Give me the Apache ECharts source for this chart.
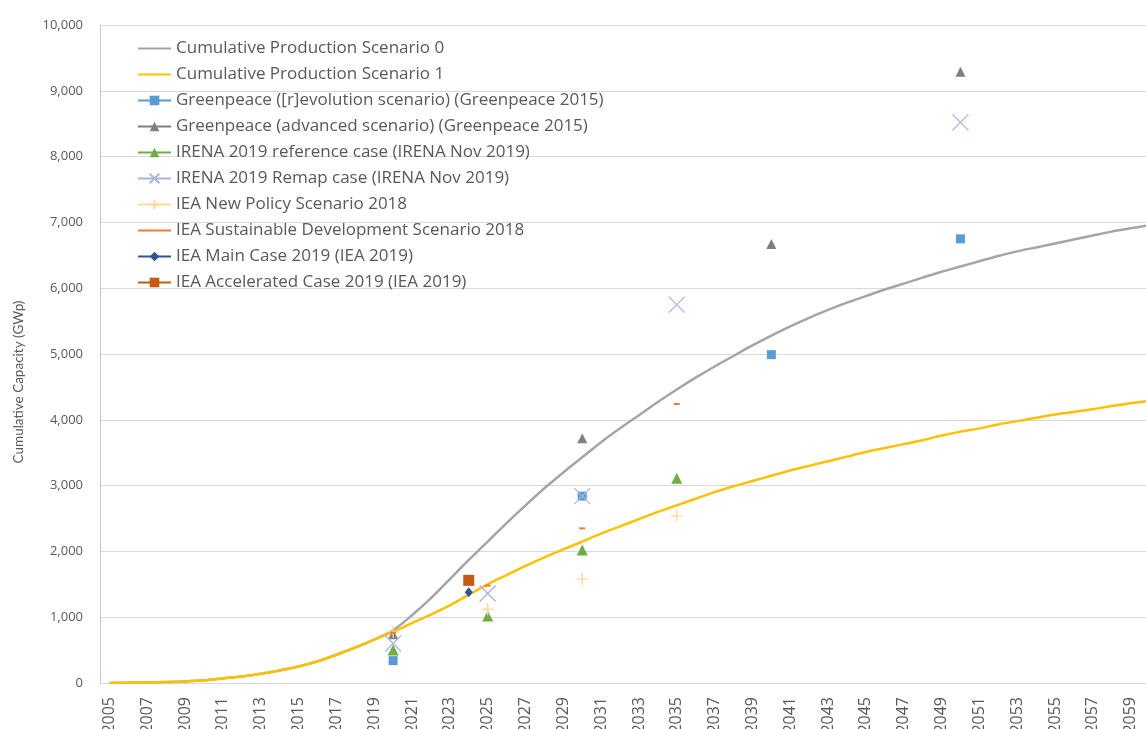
<!DOCTYPE html>
<html>
<head>
<meta charset="utf-8">
<script src="https://cdn.jsdelivr.net/npm/echarts@6/dist/echarts.min.js"></script>
<style>
  html, body { margin: 0; padding: 0; background: #fff; }
  #chart { width: 1146px; height: 729px; }
</style>
</head>
<body>
<div id="chart"></div>
<script>
// Years on the category axis
const years = [];
for (let y = 2005; y <= 2060; y++) years.push(String(y));

// Modelled cumulative production (GWp), one value per year 2005-2060
const scenario0 = [
  0, 4, 8, 15, 24, 40, 70, 100, 140, 190,
  250, 330, 430, 540, 660, 800, 1030, 1290, 1580, 1870,
  2150, 2430, 2700, 2960, 3200, 3430, 3660, 3870, 4070, 4270,
  4460, 4640, 4810, 4970, 5130, 5280, 5420, 5550, 5670, 5780,
  5880, 5980, 6070, 6160, 6250, 6330, 6410, 6490, 6560, 6620,
  6680, 6740, 6800, 6860, 6910, 6960
];
const scenario1 = [
  0, 4, 8, 15, 24, 40, 70, 100, 140, 190,
  250, 330, 430, 540, 660, 780, 910, 1040, 1180, 1340,
  1500, 1640, 1780, 1910, 2030, 2150, 2270, 2380, 2490, 2600,
  2700, 2800, 2900, 2990, 3070, 3150, 3230, 3300, 3370, 3440,
  3510, 3570, 3630, 3690, 3760, 3820, 3870, 3930, 3980, 4030,
  4080, 4120, 4160, 4210, 4250, 4290
];

// Published outlooks (year, GWp)
const greenpeaceRevYears = [2020, 2030, 2040, 2050];
const greenpeaceRevValues = [340, 2840, 4990, 6750];
const greenpeaceAdvYears = [2020, 2030, 2040, 2050];
const greenpeaceAdvValues = [740, 3720, 6670, 9290];
const irenaRefYears = [2020, 2025, 2030, 2035];
const irenaRefValues = [500, 1020, 2020, 3110];
const irenaRemapYears = [2020, 2025, 2030, 2035, 2050];
const irenaRemapValues = [600, 1360, 2840, 5750, 8520];
const ieaNpsYears = [2020, 2025, 2030, 2035];
const ieaNpsValues = [780, 1120, 1580, 2540];
const ieaSdsYears = [2020, 2025, 2030, 2035];
const ieaSdsValues = [765, 1480, 2350, 4240];
const ieaMainYears = [2024];
const ieaMainValues = [1380];
const ieaAccYears = [2024];
const ieaAccValues = [1560];

// Place sparse (year, value) pairs onto the yearly category axis
function onAxis(ys, vs) {
  const out = years.map(() => null);
  ys.forEach((y, i) => { out[years.indexOf(String(y))] = vs[i]; });
  return out;
}

const TEXT = '#595959';
const FONT = 'Open Sans';

function marker(name, ys, vs, color, symbol, size, stroke) {
  const s = {
    name: name,
    type: 'line',
    data: onAxis(ys, vs),
    connectNulls: false,
    showAllSymbol: true,
    symbol: symbol,
    symbolSize: size,
    lineStyle: { color: color, width: 2.5 },
    itemStyle: { color: color },
    emphasis: { disabled: true }
  };
  if (stroke) {
    s.itemStyle = { color: 'rgba(0,0,0,0)', borderColor: color, borderWidth: stroke };
  }
  return s;
}

const seriesList = [
  {
    name: 'Cumulative Production Scenario 0', type: 'line', data: scenario0,
    symbol: 'none', smooth: 0.3, lineStyle: { color: '#A5A5A5', width: 2.5 },
    itemStyle: { color: '#A5A5A5' }, emphasis: { disabled: true }
  },
  {
    name: 'Cumulative Production Scenario 1', type: 'line', data: scenario1,
    symbol: 'none', smooth: 0.3, lineStyle: { color: '#FFC000', width: 2.5 },
    itemStyle: { color: '#FFC000' }, emphasis: { disabled: true }
  },
  marker('Greenpeace ([r]evolution scenario) (Greenpeace 2015)', greenpeaceRevYears, greenpeaceRevValues, '#5B9BD5', 'rect', 9),
  marker('Greenpeace (advanced scenario) (Greenpeace 2015)', greenpeaceAdvYears, greenpeaceAdvValues, '#7F7F7F', 'triangle', 10),
  marker('IRENA 2019 reference case (IRENA Nov 2019)', irenaRefYears, irenaRefValues, '#70AD47', 'triangle', 11),
  marker('IRENA 2019 Remap case (IRENA Nov 2019)', irenaRemapYears, irenaRemapValues, '#A7B6E2', 'path://M0,0L10,10M10,0L0,10', 16, 1.3),
  marker('IEA New Policy Scenario 2018', ieaNpsYears, ieaNpsValues, '#FFD79F', 'path://M5,0L5,10M0,5L10,5', 12, 1.3),
  marker('IEA Sustainable Development Scenario 2018', ieaSdsYears, ieaSdsValues, '#ED7D31', 'rect', [6, 2]),
  marker('IEA Main Case 2019 (IEA 2019)', ieaMainYears, ieaMainValues, '#2F5597', 'diamond', [8, 10]),
  marker('IEA Accelerated Case 2019 (IEA 2019)', ieaAccYears, ieaAccValues, '#C55A11', 'rect', 11)
];

// Legend entries: plain lines for the curves, line + marker for the outlooks
const plainLegend = ['Cumulative Production Scenario 0', 'Cumulative Production Scenario 1',
  'IEA Sustainable Development Scenario 2018'];
const legendData = seriesList.map(s => plainLegend.includes(s.name)
  ? { name: s.name, itemStyle: { opacity: 0 } }
  : { name: s.name });

const chart = echarts.init(document.getElementById('chart'), null, { renderer: 'canvas' });
chart.setOption({
  animation: false,
  backgroundColor: '#ffffff',
  textStyle: { fontFamily: FONT },
  grid: { left: 100, top: 25, width: 1059, height: 658, containLabel: false, outerBoundsMode: 'none' },
  legend: {
    data: legendData,
    orient: 'vertical',
    left: 137,
    top: 40,
    padding: 0,
    itemWidth: 33,
    itemHeight: 12,
    itemGap: 9,
    textStyle: { fontSize: 17, lineHeight: 14, color: TEXT, fontFamily: FONT },
    selectedMode: false
  },
  xAxis: {
    type: 'category',
    data: years,
    boundaryGap: true,
    axisLine: { lineStyle: { color: '#D9D9D9', width: 1 } },
    axisTick: { show: false },
    axisLabel: { rotate: 90, interval: 1, fontSize: 16, color: TEXT, margin: 14, fontFamily: FONT }
  },
  yAxis: {
    type: 'value',
    min: 0,
    max: 10000,
    interval: 1000,
    name: 'Cumulative Capacity (GWp)',
    nameLocation: 'middle',
    nameGap: 74,
    nameTextStyle: { fontSize: 13.5, color: TEXT, fontFamily: 'Lato', padding: [0, 56, 0, 0] },
    axisLine: { show: true, lineStyle: { color: '#C8C8C8' } },
    axisTick: { show: false },
    splitLine: { lineStyle: { color: '#D9D9D9' } },
    axisLabel: {
      fontSize: 13, color: TEXT, margin: 17, fontFamily: FONT,
      formatter: v => String(v).replace(/\B(?=(\d{3})+(?!\d))/g, ',')
    }
  },
  series: seriesList
});
</script>
</body>
</html>
